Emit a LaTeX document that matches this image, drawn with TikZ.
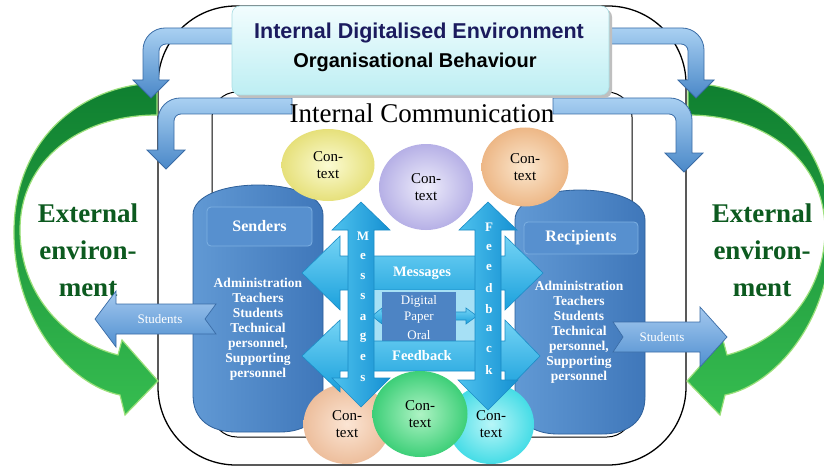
\documentclass[tikz,border=0pt]{standalone}
\usepackage{fontspec}
\setmainfont{Liberation Serif}
\newfontfamily\sansfam{Liberation Sans}
\usetikzlibrary{shapes.geometric}
\definecolor{navytxt}{HTML}{1B1B5E}
\definecolor{greentxt}{HTML}{0C5A1F}
\definecolor{grdark}{HTML}{0F7F30}
\definecolor{grlight}{HTML}{36BD50}
\definecolor{gredge}{HTML}{9BE07A}
\definecolor{bentlight}{HTML}{A9D0F2}
\definecolor{bentdark}{HTML}{4A88C8}
\definecolor{bentedge}{HTML}{3A6CA6}
\definecolor{boxtop}{HTML}{F2FDFE}
\definecolor{boxbot}{HTML}{BDEEF3}
\definecolor{boxedge}{HTML}{A9DDE3}
\definecolor{cylL}{HTML}{6199D4}
\definecolor{cylR}{HTML}{3F77BA}
\definecolor{cyledge}{HTML}{2D5F99}
\definecolor{iboxfill}{HTML}{5790CF}
\definecolor{iboxedge}{HTML}{7DB0E2}
\definecolor{hartop}{HTML}{74D4F5}
\definecolor{harbot}{HTML}{1BA0DC}
\definecolor{haredge}{HTML}{1B8CC6}
\definecolor{varL}{HTML}{4EC2EE}
\definecolor{varR}{HTML}{1590D2}
\definecolor{digbox}{HTML}{4D84C4}
\definecolor{digbg}{HTML}{A6E0F5}
\definecolor{yelO}{HTML}{E6E07A}\definecolor{yelI}{HTML}{FBFBD2}
\definecolor{purO}{HTML}{B6B0E6}\definecolor{purI}{HTML}{EEEDFB}
\definecolor{oraO}{HTML}{EDB786}\definecolor{oraI}{HTML}{FBE7CE}
\definecolor{peaO}{HTML}{EDBE9C}\definecolor{peaI}{HTML}{FBE5D4}
\definecolor{grnO}{HTML}{3DCF78}\definecolor{grnI}{HTML}{AEF3C4}
\definecolor{cyaO}{HTML}{45DCE6}\definecolor{cyaI}{HTML}{B8F6F8}
\definecolor{stulight}{HTML}{A5C9EF}
\definecolor{studark}{HTML}{4F8FD0}
\begin{document}
\begin{tikzpicture}[x=1pt,y=-1pt,
  outerframe/.style={draw=black,line width=1.3pt,rounded corners=78pt},
  innerframe/.style={draw=black,line width=1pt,rounded corners=25pt},
  greenarrow/.style={top color=grdark,bottom color=grlight,draw=gredge,line width=1.2pt},
  bentarrow/.style={top color=bentlight,bottom color=bentdark,draw=bentedge,line width=0.8pt},
  topbox/.style={draw=boxedge,top color=boxtop,bottom color=boxbot,rounded corners=8pt,line width=0.6pt},
  cyl/.style={left color=cylL,right color=cylR,draw=cyledge,line width=0.8pt},
  ibox/.style={draw=iboxedge,fill=iboxfill,rounded corners=4pt,line width=0.8pt,text=white,
     font=\bfseries\fontsize{16}{18}\selectfont},
  members/.style={text=white,align=center,font=\bfseries\fontsize{13.5}{15}\selectfont},
  ctx/.style={ellipse,align=center,font=\fontsize{15}{17}\selectfont,inner sep=0pt},
  harrow/.style={top color=hartop,bottom color=harbot,draw=haredge,line width=0.6pt},
  varrow/.style={left color=varL,right color=varR,draw=haredge,line width=0.6pt},
  hlabel/.style={text=white,font=\bfseries\fontsize{14.5}{17}\selectfont},
  vletter/.style={text=white,font=\bfseries\fontsize{13}{15}\selectfont,inner sep=0pt},
  diglabel/.style={text=white,font=\fontsize{13}{16}\selectfont,inner sep=0pt},
  studarrow/.style={top color=stulight,bottom color=studark,draw=bentedge,line width=0.7pt},
  studlabel/.style={text=white,font=\fontsize{13}{15}\selectfont},
  extlabel/.style={text=greentxt,align=center,font=\bfseries\fontsize{27}{37}\selectfont}
]
\useasboundingbox (0,0) rectangle (824,468);
\clip (0,0) rectangle (824,468);
\fill[white] (0,0) rectangle (824,468);

% frames
\draw[outerframe] (158,6) rectangle (686,465);
\draw[innerframe] (212,92) rectangle (632,437);

% green curved arrows
\path[greenarrow] (157,83) .. controls (80,85) and (15,140) .. (14,230)
  .. controls (13,320) and (70,385) .. (120,395) -- (125,415) -- (158,381)
  -- (122,340) -- (118,355) .. controls (60,340) and (20,290) .. (20,230)
  .. controls (20,160) and (80,115) .. (157,115) -- cycle;
\begin{scope}[xshift=845pt,xscale=-1]
\path[greenarrow] (157,83) .. controls (80,85) and (15,140) .. (14,230)
  .. controls (13,320) and (70,385) .. (120,395) -- (125,415) -- (158,381)
  -- (122,340) -- (118,355) .. controls (60,340) and (20,290) .. (20,230)
  .. controls (20,160) and (80,115) .. (157,115) -- cycle;
\end{scope}

% bent arrows
\path[bentarrow] (245,28) [rounded corners=22pt]-- (143,28) [sharp corners]-- (143,80)
  -- (133,80) -- (151,98) -- (169,80) -- (159,80) [rounded corners=7pt]-- (159,44)
  [sharp corners]-- (245,44) -- cycle;
\path[bentarrow] (292,98) [rounded corners=22pt]-- (158,98) [sharp corners]-- (158,150)
  -- (147,150) -- (166,169) -- (185,150) -- (174,150) [rounded corners=7pt]-- (174,114)
  [sharp corners]-- (292,114) -- cycle;
\path[bentarrow] (596,28) [rounded corners=22pt]-- (704,28) [sharp corners]-- (704,80)
  -- (714,80) -- (696,98) -- (678,80) -- (688,80) [rounded corners=7pt]-- (688,44)
  [sharp corners]-- (596,44) -- cycle;
\path[bentarrow] (553,98) [rounded corners=22pt]-- (692,98) [sharp corners]-- (692,153)
  -- (703,153) -- (684,172) -- (665,153) -- (676,153) [rounded corners=7pt]-- (676,114)
  [sharp corners]-- (553,114) -- cycle;

% top box
\fill[black!25,rounded corners=8pt] (235,9) rectangle (612,98);
\node[topbox,minimum width=377,minimum height=89,inner sep=0pt] (env) at (420.5,50.5) {};
\node[text=navytxt,font=\sansfam\bfseries\fontsize{21.5}{24}\selectfont] (title) at (419,33) {Internal Digitalised Environment};
\node[font=\sansfam\bfseries\fontsize{20}{22}\selectfont] (sub) at (415,62) {Organisational Behaviour};
\node[font=\fontsize{27}{30}\selectfont] (ic) at (422,113) {Internal Communication};

% external labels
\node[extlabel] (extL) at (88,250) {External\\environ-\\ment};
\node[extlabel] (extR) at (762,250) {External\\environ-\\ment};

% cylinders
\path[cyl] (193,215) .. controls (193,175) and (323,175) .. (323,215) -- (323,395)
  .. controls (323,420) and (305,432) .. (280,432) -- (236,432)
  .. controls (211,432) and (193,420) .. (193,395) -- cycle;
\path[cyl] (515,220) .. controls (515,180) and (645,180) .. (645,220) -- (645,397)
  .. controls (645,422) and (627,434) .. (602,434) -- (558,434)
  .. controls (533,434) and (515,422) .. (515,397) -- cycle;
\node[ibox,minimum width=105,minimum height=39] (senders) at (259.5,226.5) {Senders};
\node[ibox,minimum width=114,minimum height=32] (recipients) at (581,238) {Recipients};
\node[members] (sendlist) at (258,329) {Administration\\Teachers\\Students\\Technical\\personnel,\\Supporting\\personnel};
\node[members] (reclist) at (579,332) {Administration\\Teachers\\Students\\Technical\\personnel,\\Supporting\\personnel};

% context circles (back)
\node[ctx,inner color=yelI,outer color=yelO,minimum width=93,minimum height=72] (c1) at (328,165) {Con-\\text};
\node[ctx,inner color=purI,outer color=purO,minimum width=94,minimum height=86] (c2) at (426,187) {Con-\\text};
\node[ctx,inner color=oraI,outer color=oraO,minimum width=87,minimum height=79] (c3) at (525,167) {Con-\\text};
\node[ctx,inner color=peaI,outer color=peaO,minimum width=87,minimum height=80] (c4) at (347,424) {Con-\\text};
\node[ctx,inner color=cyaI,outer color=cyaO,minimum width=86,minimum height=80] (c6) at (491,424) {Con-\\text};

% messages horizontal arrow
\path[harrow] (302,273) -- (340,236) -- (340,256) -- (505,256) -- (505,236) -- (543,273)
  -- (505,310) -- (505,290) -- (340,290) -- (340,310) -- cycle;
\node[hlabel] (msgl) at (422,273) {Messages};

% digital / paper / oral
\fill[digbg] (374,290) rectangle (475,341);
\path[harrow] (372,316) -- (382,308) -- (382,312) -- (466,312) -- (466,308) -- (477,316)
  -- (466,324) -- (466,320) -- (382,320) -- (382,324) -- cycle;
\fill[digbox] (382,292) rectangle (456,341);
\node[diglabel] (dig) at (419,301) {Digital};
\node[diglabel] (pap) at (419,318) {Paper};
\node[diglabel] (ora) at (419,335) {Oral};

% feedback horizontal arrow
\path[harrow] (302,356) -- (340,320) -- (340,341) -- (505,341) -- (505,320) -- (540,356)
  -- (505,392) -- (505,371) -- (340,371) -- (340,392) -- cycle;
\node[hlabel] (fbl) at (422,356) {Feedback};

% vertical arrows
\path[varrow] (361,202) -- (390,230) -- (374,230) -- (374,378) -- (390,378) -- (361,407)
  -- (332,378) -- (348,378) -- (348,230) -- (332,230) -- cycle;
\path[varrow] (488,202) -- (517,230) -- (501,230) -- (501,380) -- (518,380) -- (488,410)
  -- (458,380) -- (475,380) -- (475,230) -- (459,230) -- cycle;
\foreach \ch [count=\i from 0] in {M,e,s,s,a,g,e,s}
  \node[vletter] (m\i) at (363,236+20.3*\i) {\ch};
\foreach \ch [count=\i from 0] in {F,e,e,d,b,a,c,k}
  \node[vletter] (f\i) at (489,227+20.4*\i) {\ch};

% green context circle (front)
\node[ctx,inner color=grnI,outer color=grnO,minimum width=95,minimum height=86] (c5) at (420,414) {Con-\\text};

% students arrows
\path[studarrow] (95,319) -- (116,291) -- (116,304) -- (216,304) -- (205,319) -- (216,334)
  -- (116,334) -- (116,347) -- cycle;
\node[studlabel] (stuL) at (160,319) {Students};
\path[studarrow] (727,337) -- (700,307) -- (700,322) -- (613,322) -- (623,337) -- (613,352)
  -- (700,352) -- (700,367) -- cycle;
\node[studlabel] (stuR) at (662,337) {Students};
\end{tikzpicture}
\end{document}
